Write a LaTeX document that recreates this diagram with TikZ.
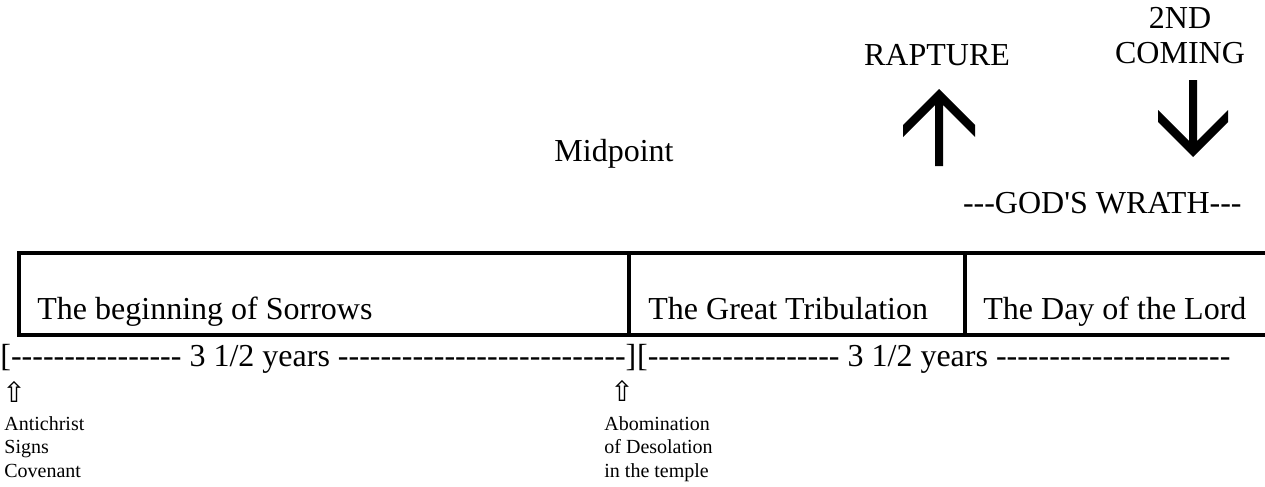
\documentclass[tikz,border=0pt]{standalone}
\usepackage{fontspec}
\setmainfont{Liberation Serif}[Ligatures=TeXOff]
\newfontfamily\arrowfont{DejaVu Sans}
\usepackage{tikz}
\usetikzlibrary{positioning}
\tikzset{
    bigtext/.style={font=\fontsize{16}{17.5}\selectfont, inner sep=0pt},
    smalltext/.style={font=\fontsize{10}{11.75}\selectfont, inner sep=0pt, align=left, anchor=north west},
    marker/.style={font=\arrowfont\fontsize{14}{16}\selectfont, inner sep=0pt},
    frame/.style={line width=1.75pt},
    bigarrow/.style={fill=black},
}

\begin{document}
\begin{tikzpicture}[x=0.5pt, y=-0.5pt]
\clip (0,0) rectangle (1265,487);

% events above the timeline
\node[bigtext, anchor=base] (rapture) at (937,65) {RAPTURE};
\node[bigtext, align=center, anchor=north] (coming) at (1180,7) {2ND\\COMING};
\node[bigtext, anchor=base] (midpoint) at (614,161) {Midpoint};
\node[bigtext, anchor=base east] (wrath) at (1242,213) {---GOD'S WRATH---};

\coordinate (raptip) at (939,89);
\coordinate (comtip) at (1193,157);
\fill[bigarrow, shift={(raptip)}] (0,0) -- (36,36) -- (36,48) -- (4,16) -- (4,77) -- (-4,77)
    -- (-4,16) -- (-36,48) -- (-36,36) -- cycle;
\fill[bigarrow, shift={(comtip)}, yscale=-1] (0,0) -- (35,35) -- (35,47) -- (4,16) -- (4,77) -- (-4,77)
    -- (-4,16) -- (-35,47) -- (-35,35) -- cycle;

% the three periods
\draw[frame] (1275,253) -- (19,253) -- (19,335) -- (1275,335);
\draw[frame] (629,253) -- (629,335);
\draw[frame] (965,253) -- (965,335);
\node[bigtext, anchor=base west] (sorrows) at (37,319) {The beginning of Sorrows};
\node[bigtext, anchor=base west] (tribulation) at (648,319) {The Great Tribulation};
\node[bigtext, anchor=base west] (dayoflord) at (983,319) {The Day of the Lord};

% years line
\node[bigtext, anchor=base west] (yrsA) at (0,366) {[---------------- 3 1/2 years ---------------------------]};
\node[bigtext, anchor=base west] (yrsB) at (yrsA.base east) {[------------------ 3 1/2 years ----------------------};

\node[marker] (markA) at (14,392) {⇧};
\node[marker] (markB) at (622,391) {⇧};
\node[smalltext] (antichrist) at (4,416) {Antichrist\\Signs\\Covenant};
\node[smalltext] (abomination) at (604,416) {Abomination\\of Desolation\\in the temple};
\end{tikzpicture}
\end{document}
